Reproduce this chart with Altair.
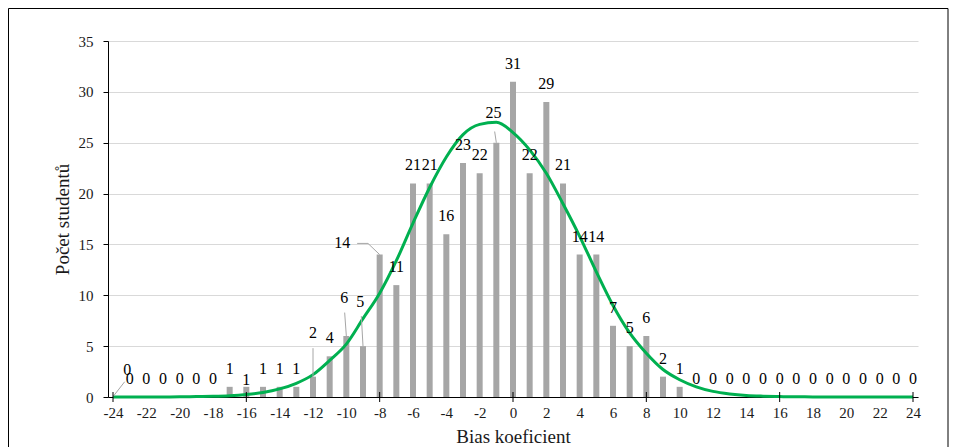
import altair as alt
import pandas as pd

# ---- data ----
x_values = list(range(-24, 25))
counts = [0, 0, 0, 0, 0, 0, 0,            # -24 .. -18
          1, 1, 1, 1, 1,                  # -17 .. -13
          2, 4, 6, 5, 14, 11, 21, 21, 16, 23, 22, 25,   # -12 .. -1
          31, 22, 29, 21, 14, 14, 7, 5, 6, 2, 1,        # 0 .. 10
          0, 0, 0, 0, 0, 0, 0, 0, 0, 0, 0, 0, 0, 0]     # 11 .. 24
fit_curve = [0.00, 0.00, 0.01, 0.01, 0.02, 0.04, 0.07, 0.13, 0.25, 0.45, 0.8, 1.35,
             2.2, 3.6, 5.2, 7.7, 10.2, 13.4, 17.1, 20.6, 23.6, 25.8, 26.8, 27.0,
             26.0, 24.3, 22.0, 19.0, 15.8, 12.3, 9.0, 6.3, 4.3, 2.7, 1.7, 1.0,
             0.55, 0.3, 0.15, 0.08, 0.04, 0.02, 0.01, 0.0, 0.0, 0.0, 0.0, 0.0, 0.0]
x_tick_labels = list(range(-24, 25, 2))
y_tick_labels = [0, 5, 10, 15, 20, 25, 30, 35]
major_ticks = [-24, -16, -8, 0, 8, 16, 24]

# ---- label placement tweaks (style, data units) ----
label_shift = {-24: (0.85, 0.85), -16: (0.0, -1.08), -12: (0.0, 2.56),
               -10: (-0.13, 1.97), -9: (-0.16, 2.56), -8: (-2.25, -0.63),
               -1: (-0.17, 1.13)}
leaders = [(-24, 0.03, -23.3, 1.5), (-12, 2, -12, 4.8), (-10, 6, -10.1, 8.3),
           (-9, 5, -9.1, 7.95), (-8, 14, -8.7, 15.1), (-8.7, 15.1, -9.35, 15.1),
           (-1, 25, -1.1, 26.1)]

FONT = "Liberation Serif"

df = pd.DataFrame({"x": x_values, "count": counts, "fit": fit_curve})
df["lx"] = [x + label_shift.get(x, (0, 0))[0] for x in x_values]
df["ly"] = [c + label_shift.get(x, (0, 0))[1] for x, c in zip(x_values, counts)]
df["txt"] = [str(c) for c in counts]

lead_df = pd.DataFrame(leaders, columns=["x1", "y1", "x2", "y2"])
tick_df = pd.DataFrame({"t": major_ticks})

xscale = alt.Scale(domain=[-24, 24], nice=False, zero=False)
yscale = alt.Scale(domain=[0, 35], nice=False)

X_AXIS = alt.Axis(values=x_tick_labels, labelExpr="'' + datum.value",
                  ticks=False, grid=False, domainColor="black", labelFlush=False,
                  labelPadding=8, title="Bias koeficient", titlePadding=7)
Y_AXIS = alt.Axis(values=y_tick_labels, grid=True, gridColor="#d9d9d9",
                  tickColor="black", tickSize=5, domainColor="black", labelFlush=False,
                  labelPadding=10, title="Počet studentů", titlePadding=6)


def X(field):
    return alt.X(field, scale=xscale, axis=X_AXIS, title="Bias koeficient")


def Y(field):
    return alt.Y(field, scale=yscale, axis=Y_AXIS, title="Počet studentů")


bars = alt.Chart(df).mark_bar(size=6, color="#a6a6a6").encode(
    x=X("x:Q"), y=Y("count:Q"))

curve = alt.Chart(df).mark_line(color="#00b050", strokeWidth=3, interpolate="monotone").encode(
    x=X("x:Q"), y=Y("fit:Q"))

lead = alt.Chart(lead_df).mark_rule(color="#a6a6a6", strokeWidth=1).encode(
    x=X("x1:Q"), x2="x2:Q", y=Y("y1:Q"), y2="y2:Q")

labels = alt.Chart(df).mark_text(font=FONT, fontSize=16, color="black",
                                 baseline="middle", dy=-18).encode(
    x=X("lx:Q"), y=Y("ly:Q"), text="txt:N")

ticks = alt.Chart(tick_df).mark_rule(color="black", strokeWidth=1).encode(
    x=X("t:Q"), y=alt.value(351), y2=alt.value(361))

frame_df = pd.DataFrame({"a": [0]})
frame_left = alt.Chart(frame_df).mark_rule(color="black", strokeWidth=1).encode(
    x=alt.value(-99.5), y=alt.value(-32.5), y2=alt.value(406))
frame_top = alt.Chart(frame_df).mark_rule(color="black", strokeWidth=1).encode(
    x=alt.value(-99.5), x2=alt.value(840), y=alt.value(-32.5))
frame_right = alt.Chart(frame_df).mark_rule(color="black", strokeWidth=1).encode(
    x=alt.value(840), y=alt.value(-32.5), y2=alt.value(406))

chart = alt.layer(bars, curve, lead, labels, ticks, frame_left, frame_top, frame_right).properties(
    width=810, height=356, padding=0, background="white"
).configure_view(stroke=None).configure_axis(
    labelFont=FONT, titleFont=FONT, labelFontSize=15, titleFontSize=19,
    labelColor="#1a1a1a", titleColor="#1a1a1a", titleFontWeight="normal",
)

chart.save("out.html", embed_options={"renderer": "svg", "actions": False})
